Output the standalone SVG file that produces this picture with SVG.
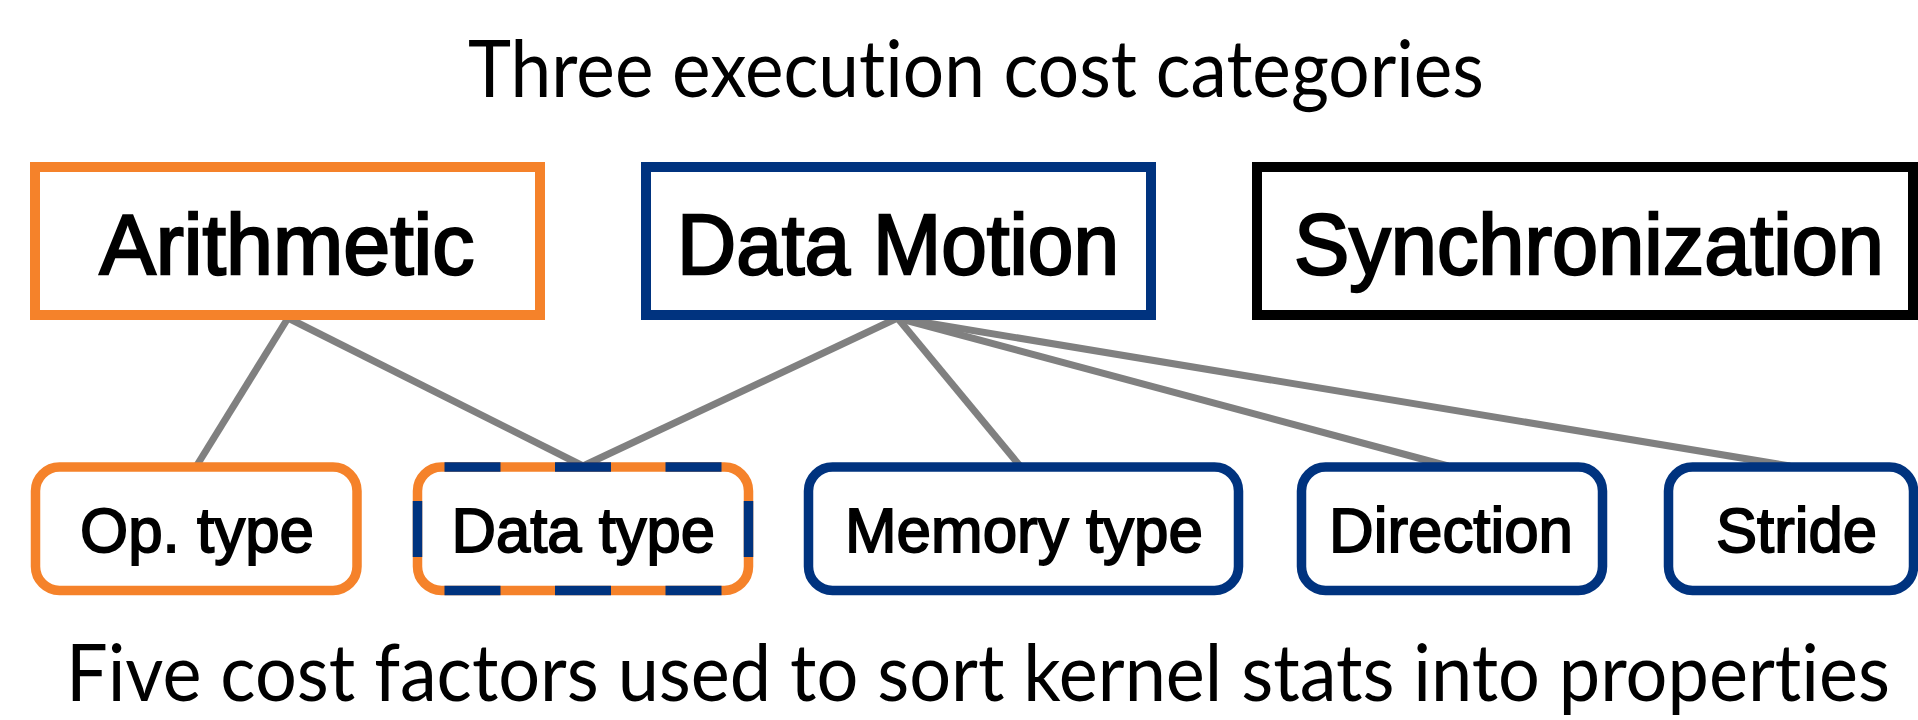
<svg xmlns="http://www.w3.org/2000/svg" width="1918" height="720" viewBox="0 0 1918 720">
  <style>
    .caption { font-family: Lato, "Liberation Sans", sans-serif; font-size: 79px; fill: #000; font-variant-ligatures: none; }
    .big { font-family: "Liberation Sans", Arial, sans-serif; font-size: 86px; fill: #000; stroke: #000; stroke-width: 2.4; }
    .small { font-family: "Liberation Sans", Arial, sans-serif; font-size: 63px; fill: #000; stroke: #000; stroke-width: 1.8; }
    .cat { fill: #fff; stroke-width: 10; }
    .factor { fill: #fff; stroke-width: 9.5; }
    .orange { stroke: #F5822A; }
    .blue { stroke: #00337F; }
    .black { stroke: #000; }
    .link { stroke: #808080; stroke-width: 7; fill: none; }
    .dash { stroke: #00337F; stroke-width: 9.5; stroke-linecap: butt; fill: none; }
  </style>

  <rect width="1918" height="720" fill="#fff"/>

  <!-- headings -->
  <text class="caption" x="468" y="97" textLength="1016" lengthAdjust="spacingAndGlyphs">Three execution cost categories</text>
  <text class="caption" x="66" y="701" textLength="1824" lengthAdjust="spacingAndGlyphs">Five cost factors used to sort kernel stats into properties</text>

  <!-- connectors: category to factor -->
  <g id="connectors">
    <line class="link" x1="288" y1="318" x2="196.5" y2="466"/>
    <line class="link" x1="288" y1="318" x2="583" y2="466"/>
    <line class="link" x1="897.5" y1="318" x2="583" y2="466"/>
    <line class="link" x1="897.5" y1="318" x2="1020" y2="466"/>
    <line class="link" x1="897.5" y1="318" x2="1448" y2="466"/>
    <line class="link" x1="897.5" y1="318" x2="1790" y2="466"/>
  </g>

  <!-- categories -->
  <g id="arithmetic">
    <rect class="cat orange" x="35" y="167" width="505" height="148"/>
    <text class="big" x="99.5" y="274" textLength="375" lengthAdjust="spacingAndGlyphs">Arithmetic</text>
  </g>
  <g id="data-motion">
    <rect class="cat blue" x="646" y="167" width="505" height="148"/>
    <text class="big" x="677" y="274" textLength="442" lengthAdjust="spacingAndGlyphs">Data Motion</text>
  </g>
  <g id="synchronization">
    <rect class="cat black" x="1257" y="167" width="656" height="148"/>
    <text class="big" x="1294" y="274" textLength="590" lengthAdjust="spacingAndGlyphs">Synchronization</text>
  </g>

  <!-- cost factors -->
  <g id="op-type">
    <rect class="factor orange" x="35.5" y="467" width="321.5" height="123.5" rx="24" ry="24"/>
    <text class="small" x="80" y="552" textLength="234" lengthAdjust="spacingAndGlyphs">Op. type</text>
  </g>
  <g id="data-type">
    <rect class="factor orange" x="417.5" y="467" width="331" height="123.5" rx="24" ry="24"/>
    <!-- shared factor: blue segments over the orange outline -->
    <path class="dash" d="M444.5 467H500.5M555 467H611M665.5 467H721.5M444.5 590.5H500.5M555 590.5H611M665.5 590.5H721.5M417.5 501V557M748.5 501V557"/>
    <text class="small" x="451.5" y="552" textLength="263.5" lengthAdjust="spacingAndGlyphs">Data type</text>
  </g>
  <g id="memory-type">
    <rect class="factor blue" x="808.5" y="467" width="430" height="123.5" rx="24" ry="24"/>
    <text class="small" x="845" y="552" textLength="358" lengthAdjust="spacingAndGlyphs">Memory type</text>
  </g>
  <g id="direction">
    <rect class="factor blue" x="1301.5" y="467" width="301" height="123.5" rx="24" ry="24"/>
    <text class="small" x="1329" y="552" textLength="244" lengthAdjust="spacingAndGlyphs">Direction</text>
  </g>
  <g id="stride">
    <rect class="factor blue" x="1668.5" y="467" width="245" height="123.5" rx="24" ry="24"/>
    <text class="small" x="1716" y="552" textLength="161" lengthAdjust="spacingAndGlyphs">Stride</text>
  </g>
</svg>
